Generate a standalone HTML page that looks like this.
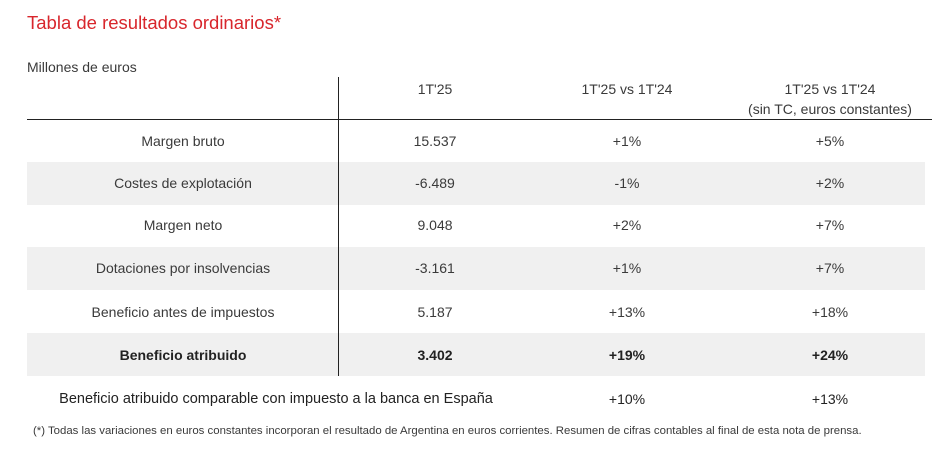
<!DOCTYPE html>
<html><head><meta charset="utf-8"><style>
body{margin:0;width:950px;height:460px;background:#fff;font-family:"Liberation Sans",sans-serif;color:#3a3a3a;position:relative;overflow:hidden}
.a{position:absolute;white-space:nowrap}
.c{position:absolute;transform:translateX(-50%);white-space:nowrap;font-size:14px}
.g{position:absolute;left:27px;width:898px;height:43px;background:#f0f0f0}
.b{font-weight:bold;color:#222}
</style></head><body>
<div class="a" style="left:27px;top:12px;font-size:18.5px;color:#d8262c">Tabla de resultados ordinarios*</div>
<div class="a" style="left:27px;top:59px;font-size:14px">Millones de euros</div>
<div class="g" style="top:162px"></div>
<div class="g" style="top:247px"></div>
<div class="g" style="top:333px"></div>
<div class="a" style="left:338px;top:77px;width:1px;height:299px;background:#222"></div>
<div class="a" style="left:27px;top:119px;width:905px;height:1px;background:#222"></div>
<div class="c" style="left:435px;top:81px">1T'25</div>
<div class="c" style="left:627px;top:81px">1T'25 vs 1T'24</div>
<div class="c" style="left:830px;top:81px">1T'25 vs 1T'24</div>
<div class="c" style="left:830px;top:101px">(sin TC, euros constantes)</div>

<div class="c" style="left:183px;top:133px">Margen bruto</div><div class="c" style="left:435px;top:133px">15.537</div><div class="c" style="left:627px;top:133px">+1%</div><div class="c" style="left:830px;top:133px">+5%</div>
<div class="c" style="left:183px;top:175px">Costes de explotación</div><div class="c" style="left:435px;top:175px">-6.489</div><div class="c" style="left:627px;top:175px">-1%</div><div class="c" style="left:830px;top:175px">+2%</div>
<div class="c" style="left:183px;top:217px">Margen neto</div><div class="c" style="left:435px;top:217px">9.048</div><div class="c" style="left:627px;top:217px">+2%</div><div class="c" style="left:830px;top:217px">+7%</div>
<div class="c" style="left:183px;top:260px">Dotaciones por insolvencias</div><div class="c" style="left:435px;top:260px">-3.161</div><div class="c" style="left:627px;top:260px">+1%</div><div class="c" style="left:830px;top:260px">+7%</div>
<div class="c" style="left:183px;top:304px">Beneficio antes de impuestos</div><div class="c" style="left:435px;top:304px">5.187</div><div class="c" style="left:627px;top:304px">+13%</div><div class="c" style="left:830px;top:304px">+18%</div>
<div class="c b" style="left:183px;top:347px">Beneficio atribuido</div><div class="c b" style="left:435px;top:347px">3.402</div><div class="c b" style="left:627px;top:347px">+19%</div><div class="c b" style="left:830px;top:347px">+24%</div>
<div class="c" style="left:276px;top:391px;font-size:14.5px;color:#222">Beneficio atribuido comparable con impuesto a la banca en España</div><div class="c" style="left:627px;top:391px;color:#222">+10%</div><div class="c" style="left:830px;top:391px;color:#222">+13%</div>
<div class="a" style="left:33px;top:425px;font-size:11.4px">(*) Todas las variaciones en euros constantes incorporan el resultado de Argentina en euros corrientes. Resumen de cifras contables al final de esta nota de prensa.</div>
</body></html>
